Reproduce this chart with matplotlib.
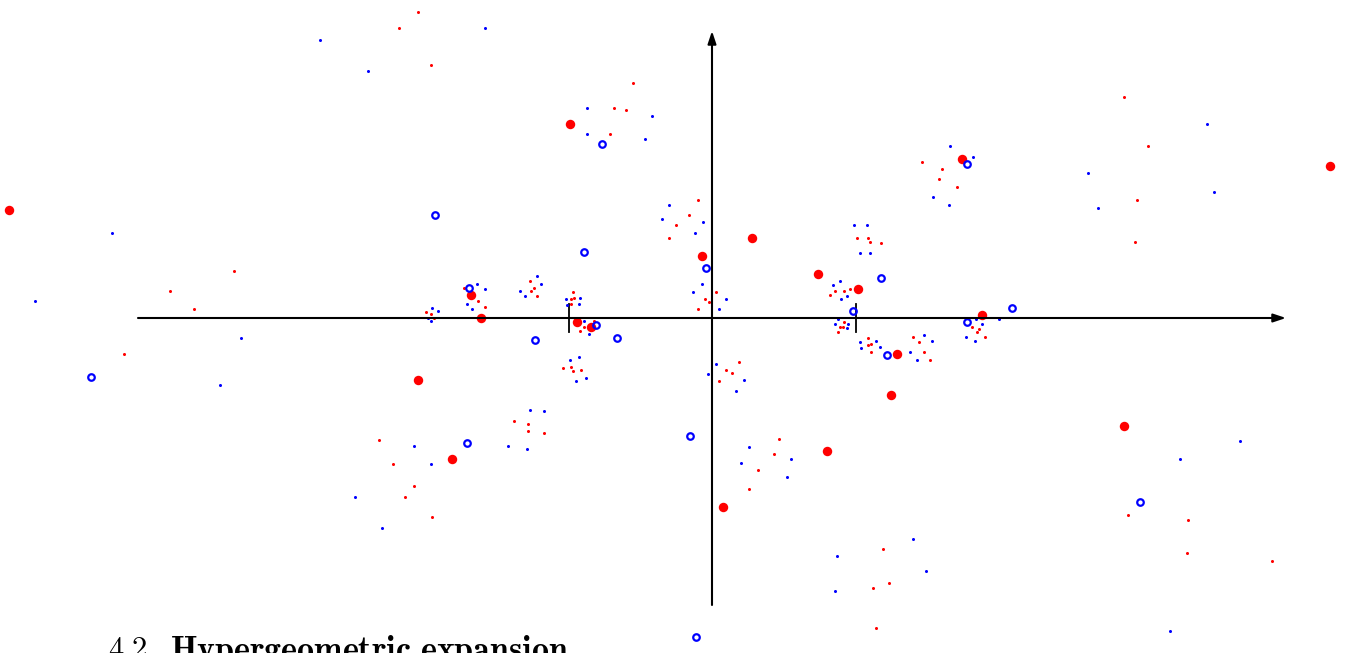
import matplotlib
matplotlib.use('Agg')
import matplotlib.pyplot as plt

matplotlib.rcParams['mathtext.fontset'] = 'cm'

# big red dots
red_big_x = [-4.90, -0.99, 1.74, 4.31, -1.68, -1.61, -0.94, -0.84, -2.05, -1.81,
             0.28, -0.07, 0.74, 1.02, 1.29, 1.25, 1.88, 2.87, 0.80, 0.08]
red_big_y = [0.75, 1.35, 1.11, 1.06, 0.16, 0.00, -0.03, -0.06, -0.43, -0.98,
             0.56, 0.43, 0.31, 0.20, -0.25, -0.54, 0.02, -0.75, -0.93, -1.32]

# blue rings
blue_ring_x = [-0.77, -1.93, 1.78, -0.89, -1.69, -0.81, -1.23, -0.66, -4.33, -1.71,
               -0.04, 1.18, 0.98, 1.22, 1.78, 2.09, -0.15, -0.11, 2.98]
blue_ring_y = [1.21, 0.72, 1.07, 0.46, 0.21, -0.05, -0.15, -0.14, -0.41, -0.87,
               0.35, 0.28, 0.05, -0.26, -0.03, 0.07, -0.82, -2.22, -1.28]

# small red dots
red_small_x = [-2.05, -2.18, -1.96, -0.55, -0.68, -0.60, -0.71, 1.46, 1.60, 1.58,
               1.71, -0.10, -0.16, 2.87, 3.04, 2.96, -3.33, -3.78, -3.61, -4.10,
               -0.25, -0.30, -1.27, -1.24, -1.26, -1.22, -1.73, -1.63, -1.58, -1.99,
               -1.96, -1.94, -0.97, -0.98, -0.96, -0.98, -0.82, -0.89, -0.92, -1.04,
               -0.98, -0.97, -0.91, -1.38, -1.28, -1.28, -1.17, -2.32, -2.22, -2.08,
               -2.14, -1.95, 0.03, -0.05, -0.02, -0.10, 1.01, 1.09, 1.10, 1.18,
               0.86, 0.92, 0.96, 0.82, 0.92, 0.89, 0.91, 0.88, 1.09, 1.11,
               1.09, 1.11, 1.40, 1.44, 1.48, 1.52, 2.00, 1.81, 1.86, 1.85,
               1.90, 0.19, 0.10, 0.14, 0.05, 2.95, 0.47, 0.43, 0.32, 0.26,
               1.19, 1.23, 1.12, 1.14, 2.90, 3.32, 3.31, 3.90]
red_small_y = [2.13, 2.02, 1.76, 1.64, 1.46, 1.45, 1.28, 1.09, 1.04, 0.97,
               0.91, 0.82, 0.72, 1.54, 1.20, 0.82, 0.33, 0.19, 0.06, -0.25,
               0.65, 0.56, 0.26, 0.21, 0.19, 0.15, 0.21, 0.12, 0.08, 0.04,
               0.03, 0.00, 0.18, 0.13, 0.14, 0.10, -0.02, -0.06, -0.09, -0.35,
               -0.34, -0.37, -0.36, -0.72, -0.74, -0.79, -0.80, -0.85, -1.02, -1.17,
               -1.25, -1.39, 0.18, 0.13, 0.11, 0.06, 0.56, 0.56, 0.53, 0.52,
               0.19, 0.19, 0.20, 0.16, -0.03, -0.06, -0.06, -0.10, -0.14, -0.18,
               -0.19, -0.24, -0.13, -0.17, -0.24, -0.29, 0.00, -0.06, -0.08, -0.10,
               -0.13, -0.31, -0.36, -0.38, -0.44, 0.53, -0.84, -0.95, -1.06, -1.19,
               -1.61, -1.85, -1.88, -2.16, -1.37, -1.41, -1.64, -1.69]

# small blue dots
blue_small_x = [-2.73, -1.58, -2.40, -0.87, -0.42, -0.87, -0.47, -0.30, -0.35, 1.66,
                1.82, 1.54, 1.65, 3.45, 2.62, 3.50, 2.69, -4.18, -4.72, -3.28,
                -3.43, -1.22, -1.19, -1.34, -1.30, -1.64, -1.58, -1.71, -1.67, -1.95,
                -1.91, -1.98, -1.96, -1.02, -0.92, -1.01, -0.93, -0.89, -0.86, -0.99,
                -0.93, -0.95, -0.88, -1.27, -1.17, -2.08, -1.42, -1.29, -1.96, -2.49,
                -2.30, -0.06, -0.12, -0.07, -0.13, 0.10, 0.05, 0.99, 1.08, 1.03,
                1.10, 0.84, 0.89, 0.90, 0.94, 0.88, 0.86, 0.95, 0.94, 1.03,
                1.14, 1.17, 1.04, 1.48, 1.53, 1.38, 1.43, 1.84, 2.00, 1.88,
                1.77, 1.83, 0.03, -0.03, 0.22, 0.17, 0.26, 0.55, 0.20, 0.52,
                1.40, 0.87, 1.49, 0.86, 3.68, 3.26, 3.19]
blue_small_y = [1.94, 2.02, 1.72, 1.46, 1.41, 1.28, 1.25, 0.79, 0.69, 1.20,
                1.12, 0.84, 0.79, 1.35, 1.01, 0.88, 0.77, 0.59, 0.12, -0.14,
                -0.47, 0.29, 0.24, 0.19, 0.15, 0.24, 0.20, 0.10, 0.06, 0.07,
                0.05, 0.00, -0.02, 0.13, 0.14, 0.09, 0.10, -0.02, -0.11, -0.29,
                -0.27, -0.44, -0.42, -0.64, -0.65, -0.89, -0.89, -0.91, -1.02, -1.25,
                -1.46, 0.67, 0.59, 0.24, 0.18, 0.13, 0.06, 0.65, 0.65, 0.45,
                0.45, 0.23, 0.26, 0.13, 0.15, -0.01, -0.04, -0.04, -0.07, -0.17,
                -0.16, -0.20, -0.21, -0.12, -0.16, -0.24, -0.29, -0.01, -0.01, -0.04,
                -0.13, -0.16, -0.32, -0.39, -0.43, -0.51, -0.90, -0.98, -1.01, -1.11,
                -1.54, -1.66, -1.76, -1.90, -0.86, -0.98, -2.18]

tick_x = [-1, 1]

fig = plt.figure(figsize=(13.47, 6.53), dpi=100)
ax = fig.add_axes([0, 0, 1, 1])
ax.set_axis_off()
ax.set_xlim(-712 / 143.5, 635 / 143.5)
ax.set_ylim(-335 / 143.5, 318 / 143.5)

arrow = dict(arrowstyle='-|>,head_length=0.75,head_width=0.25', lw=1.5,
             color='black', shrinkA=0, shrinkB=0, mutation_scale=10)
ax.annotate('', xy=(4, 0), xytext=(-4, 0), arrowprops=arrow)
ax.annotate('', xy=(0, 2), xytext=(0, -2), arrowprops=arrow)
for t in tick_x:
    ax.plot([t, t], [-0.1, 0.1], color='black', lw=1.3)

ax.plot(red_small_x, red_small_y, 'o', color='red', ms=2.2, mew=0)
ax.plot(blue_small_x, blue_small_y, 'o', color='blue', ms=2.2, mew=0)
ax.plot(red_big_x, red_big_y, 'o', color='red', ms=6.8, mew=0)
ax.plot(blue_ring_x, blue_ring_y, 'o', mfc='none', mec='blue', ms=4.7, mew=1.6)

# section heading, cut off at the bottom edge like the source page
fig.text(108 / 1347, -5 / 653, r'$4.2$', fontsize=22, va='baseline')
fig.text(170 / 1347, -7 / 653, r'$\mathbf{Hypergeometric\ expansion}$',
         fontsize=24.5, va='baseline')

fig.savefig('out.png', dpi=100)
